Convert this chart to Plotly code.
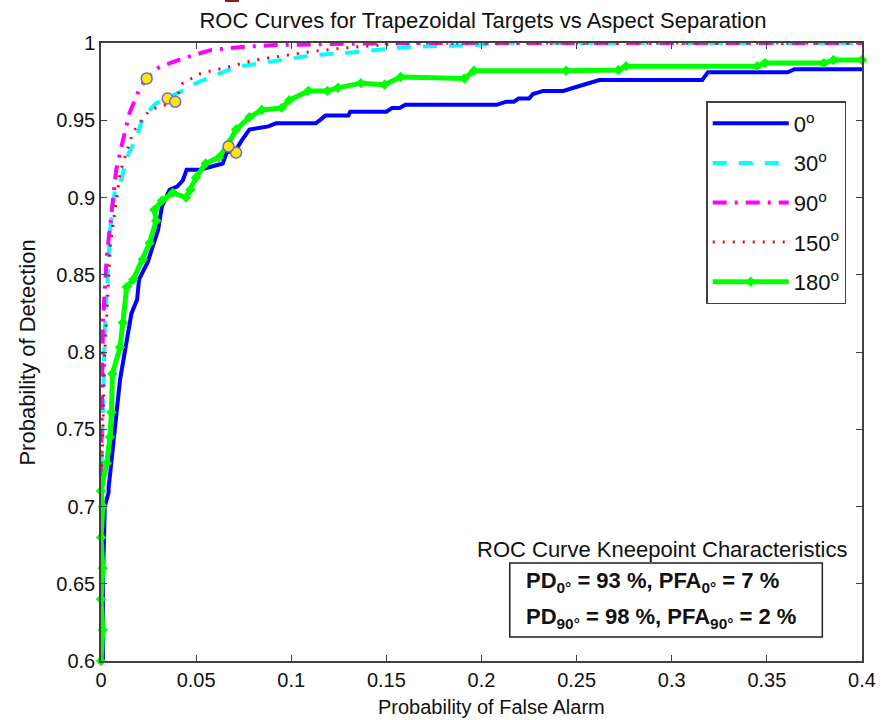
import plotly.graph_objects as go

# ---------------- data ----------------
x_tick_vals = [0, 0.05, 0.1, 0.15, 0.2, 0.25, 0.3, 0.35, 0.4]
x_tick_text = ["0", "0.05", "0.1", "0.15", "0.2", "0.25", "0.3", "0.35", "0.4"]
y_tick_vals = [0.6, 0.65, 0.7, 0.75, 0.8, 0.85, 0.9, 0.95, 1.0]
y_tick_text = ["0.6", "0.65", "0.7", "0.75", "0.8", "0.85", "0.9", "0.95", "1"]

# 0 deg (blue, solid)
pfa_0 = [0.001, 0.001, 0.002, 0.004, 0.004, 0.008, 0.010, 0.016, 0.019, 0.020, 0.0245, 0.030,
         0.032, 0.036, 0.040, 0.043, 0.045, 0.052, 0.064, 0.066, 0.071, 0.074, 0.078, 0.088,
         0.092, 0.113, 0.118, 0.130, 0.131, 0.150, 0.153, 0.157, 0.160, 0.208, 0.213, 0.217,
         0.2195, 0.225, 0.227, 0.2325, 0.243, 0.251, 0.260, 0.262, 0.316, 0.319, 0.361, 0.3645, 0.40]
pd_0 = [0.600, 0.650, 0.700, 0.709, 0.712, 0.760, 0.782, 0.825, 0.834, 0.847, 0.858, 0.879,
        0.894, 0.905, 0.907, 0.911, 0.918, 0.918, 0.922, 0.929, 0.931, 0.937, 0.944, 0.946,
        0.948, 0.948, 0.953, 0.953, 0.9555, 0.9555, 0.958, 0.958, 0.960, 0.960, 0.962, 0.962,
        0.964, 0.964, 0.967, 0.969, 0.969, 0.972, 0.975, 0.976, 0.976, 0.981, 0.981, 0.983, 0.983]

# 30 deg (cyan, dashed)
pfa_30 = [0.0, 0.002, 0.0047, 0.0073, 0.010, 0.0135, 0.0188, 0.022, 0.029, 0.0346, 0.041, 0.050,
          0.0605, 0.071, 0.0845, 0.100, 0.1105, 0.128, 0.1455, 0.163, 0.198, 0.21, 0.40]
pd_30 = [0.71, 0.814, 0.878, 0.905, 0.908, 0.926, 0.939, 0.952, 0.961, 0.964, 0.968, 0.974,
         0.979, 0.9845, 0.987, 0.990, 0.992, 0.9935, 0.9955, 0.9976, 0.9987, 1.0, 1.0]

# 90 deg (magenta, dash-dot)
pfa_90 = [0.0, 0.0004, 0.001, 0.003, 0.006, 0.008, 0.0115, 0.015, 0.020, 0.0238, 0.0307, 0.043,
          0.058, 0.076, 0.092, 0.15, 0.40]
pd_90 = [0.72, 0.782, 0.819, 0.8615, 0.895, 0.918, 0.937, 0.9547, 0.9696, 0.977, 0.9845, 0.990,
         0.9955, 0.9976, 0.9987, 1.0, 1.0]

# 150 deg (red, dotted)
pfa_150 = [0.0, 0.002, 0.005, 0.010, 0.0167, 0.0255, 0.0386, 0.043, 0.053, 0.067, 0.081, 0.0985,
           0.11, 0.128, 0.145, 0.16, 0.40]
pd_150 = [0.70, 0.80, 0.87, 0.916, 0.942, 0.9566, 0.962, 0.974, 0.9806, 0.9845, 0.989, 0.992,
          0.9944, 0.9968, 0.9987, 1.0, 1.0]

# 180 deg (green, line + markers)
pfa_180 = [0.0, 0.001, 0.0, 0.001, 0.0, 0.001, 0.0, 0.003, 0.0047, 0.0055, 0.006, 0.010, 0.0115,
           0.0135, 0.017, 0.022, 0.0255, 0.029, 0.028, 0.032, 0.0377, 0.0447, 0.047, 0.050, 0.055,
           0.062, 0.067, 0.071, 0.078, 0.0845, 0.095, 0.099, 0.109, 0.119, 0.1246, 0.1366, 0.149,
           0.1575, 0.191, 0.196, 0.2445, 0.272, 0.276, 0.345, 0.349, 0.380, 0.385, 0.40]
pd_180 = [0.600, 0.620, 0.640, 0.660, 0.680, 0.700, 0.710, 0.728, 0.745, 0.761, 0.786, 0.803, 0.819,
          0.842, 0.847, 0.860, 0.8705, 0.885, 0.892, 0.898, 0.903, 0.900, 0.905, 0.913, 0.922,
          0.926, 0.935, 0.944, 0.952, 0.9566, 0.958, 0.963, 0.969, 0.969, 0.971, 0.974, 0.973,
          0.978, 0.977, 0.982, 0.982, 0.9825, 0.985, 0.985, 0.987, 0.987, 0.989, 0.989]

# kneepoints (0, 30, 90, 150, 180 deg)
knee_pfa = [0.071, 0.035, 0.024, 0.039, 0.067]
knee_pd = [0.929, 0.964, 0.977, 0.962, 0.933]

series_names = ["0<sup>o</sup>", "30<sup>o</sup>", "90<sup>o</sup>", "150<sup>o</sup>", "180<sup>o</sup>"]

title_text = "ROC Curves for Trapezoidal Targets vs Aspect Separation"
xlabel = "Probability of False Alarm"
ylabel = "Probability of Detection"
box_title = "ROC Curve Kneepoint Characteristics"
box_line1 = "<b>PD<sub>0°</sub> = 93 %, PFA<sub>0°</sub> = 7 %</b>"
box_line2 = "<b>PD<sub>90°</sub> = 98 %, PFA<sub>90°</sub> = 2 %</b>"

FONT = "Liberation Sans, Arial, sans-serif"

fig = go.Figure()
fig.add_trace(go.Scatter(x=pfa_0, y=pd_0, mode="lines", name=series_names[0], legendgroup="a",
                         line=dict(color="#0000FF", width=4)))
fig.add_trace(go.Scatter(x=pfa_30, y=pd_30, mode="lines", name=series_names[1], legendgroup="b",
                         line=dict(color="#00FFFF", width=4, dash="14px,12px")))
fig.add_trace(go.Scatter(x=pfa_90, y=pd_90, mode="lines", name=series_names[2], legendgroup="c",
                         line=dict(color="#FF00FF", width=4, dash="14px,8px,3px,8px")))
fig.add_trace(go.Scatter(x=pfa_150, y=pd_150, mode="lines", name=series_names[3], legendgroup="d",
                         line=dict(color="#FF0000", width=3, dash="2px,8px")))
fig.add_trace(go.Scatter(x=pfa_180, y=pd_180, mode="lines+markers", name=series_names[4], legendgroup="e",
                         line=dict(color="#00FF00", width=5),
                         marker=dict(symbol="diamond", size=8, color="#00FF00"),
                         cliponaxis=False))
fig.add_trace(go.Scatter(x=knee_pfa, y=knee_pd, mode="markers", showlegend=False,
                         marker=dict(size=11, color="#FFE800", line=dict(color="#6A6AD8", width=1.5))))

# plot area pixel geometry
L, R, T, B = 101, 20, 43, 59
W, H = 888, 720
pw, ph = W - L - R, H - T - B

def px(xp):
    return (xp - L) / pw

def py(yp):
    return (H - B - yp) / ph

axis_common = dict(showgrid=False, zeroline=False, showline=True, linecolor="#404040", linewidth=1.5,
                   mirror="ticks", ticks="inside", ticklen=6, tickcolor="#404040",
                   tickfont=dict(family=FONT, size=20, color="#111111"))

fig.update_layout(
    width=W, height=H,
    margin=dict(l=L, r=R, t=T, b=B),
    paper_bgcolor="white", plot_bgcolor="white",
    font=dict(family=FONT, color="#111111"),
    title=dict(text=title_text, x=px(486), xanchor="center", xref="paper", y=1 - 20 / H, yanchor="middle",
               font=dict(family=FONT, size=22, color="#111111")),
    xaxis=dict(range=[0, 0.4], tickvals=x_tick_vals, ticktext=x_tick_text, **axis_common),
    yaxis=dict(range=[0.6, 1.0], tickvals=y_tick_vals, ticktext=y_tick_text, **axis_common),
    legend=dict(x=px(711), y=py(101), xanchor="left", yanchor="top",
                bgcolor="white", bordercolor="#404040", borderwidth=1.5,
                font=dict(family=FONT, size=22, color="#111111"),
                tracegroupgap=8, itemwidth=76),
    showlegend=True,
)

fig.add_annotation(x=px(495), y=py(707), xref="paper", yref="paper", text=xlabel, showarrow=False,
                   font=dict(family=FONT, size=20, color="#111111"), xanchor="center", yanchor="middle")
fig.add_annotation(x=px(27), y=py(353), xref="paper", yref="paper", text=ylabel, showarrow=False,
                   textangle=-90, font=dict(family=FONT, size=22, color="#111111"),
                   xanchor="center", yanchor="middle")
fig.add_annotation(x=px(666), y=py(549), xref="paper", yref="paper", text=box_title, showarrow=False,
                   font=dict(family=FONT, size=22, color="#111111"), xanchor="center", yanchor="middle")
fig.add_shape(type="rect", xref="paper", yref="paper", x0=px(513), x1=px(828), y0=py(637), y1=py(563),
              line=dict(color="#222222", width=1.5), fillcolor="white", layer="above")
fig.add_annotation(x=px(527), y=py(582), xref="paper", yref="paper", text=box_line1, showarrow=False,
                   font=dict(family=FONT, size=22, color="#111111"), xanchor="left", yanchor="middle")
fig.add_annotation(x=px(527), y=py(618), xref="paper", yref="paper", text=box_line2, showarrow=False,
                   font=dict(family=FONT, size=22, color="#111111"), xanchor="left", yanchor="middle")
# small dark-red mark at the top edge
fig.add_shape(type="rect", xref="paper", yref="paper", x0=px(226), x1=px(240), y0=py(2), y1=py(0),
              line=dict(width=0), fillcolor="#8B1A1A")

fig.write_html("out.html")
